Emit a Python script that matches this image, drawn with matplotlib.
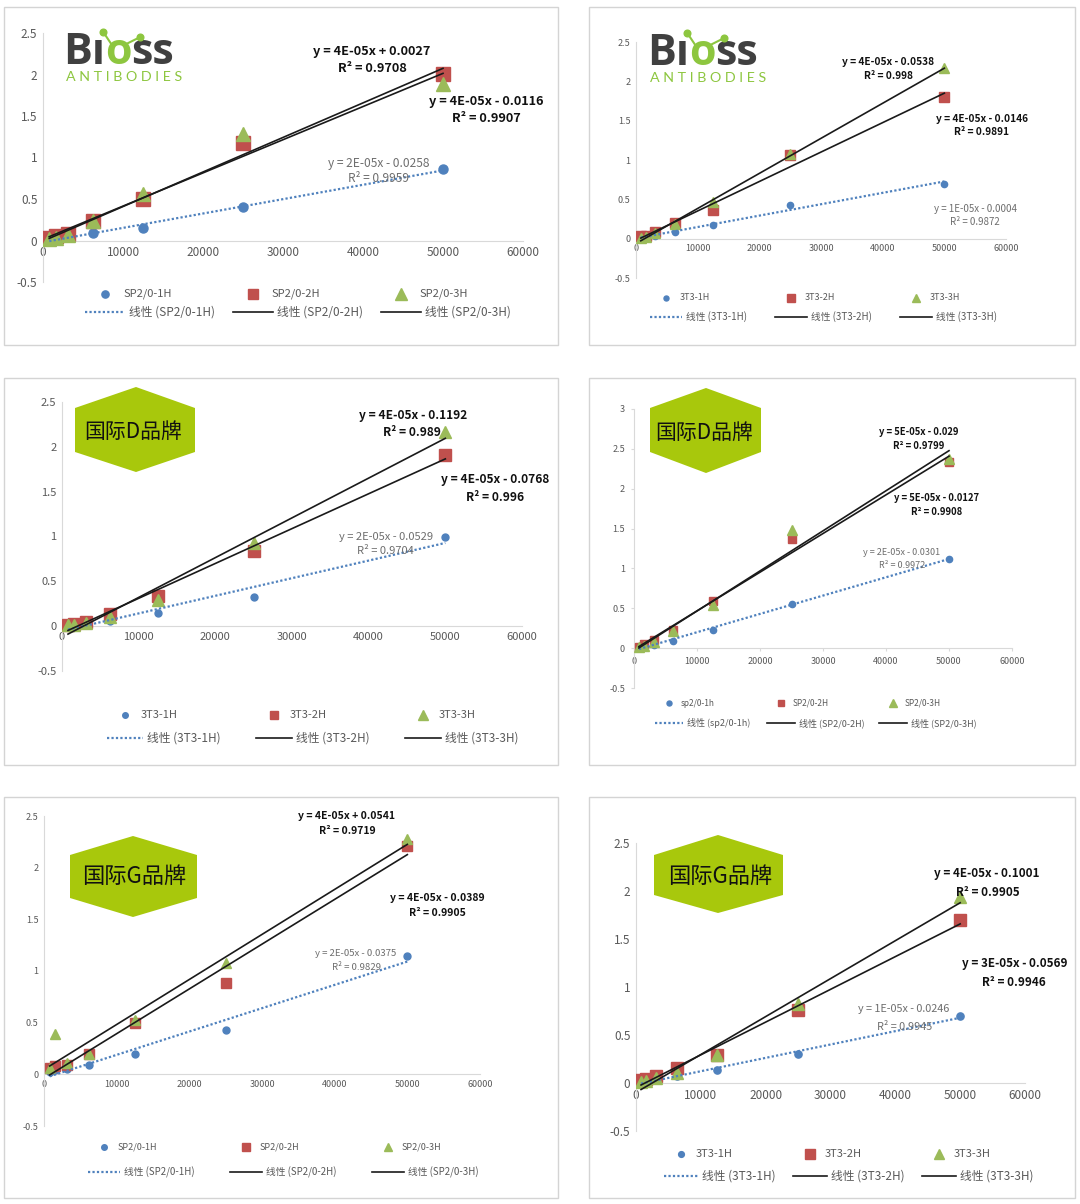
import numpy as np
import matplotlib
matplotlib.use("Agg")
import matplotlib.pyplot as plt
from matplotlib.patches import Polygon, Rectangle
from matplotlib.lines import Line2D

plt.rcParams['font.family'] = ['Noto Sans CJK SC', 'DejaVu Sans']

W, H = 1080, 1204

# dilution series (x) shared by every panel
conc = [781.25, 1562.5, 3125, 6250, 12500, 25000, 50000]

# panel 1 - Bioss, SP2/0
p1_names = ["SP2/0-1H", "SP2/0-2H", "SP2/0-3H"]
p1_1h = [0.01, 0.02, 0.04, 0.09, 0.15, 0.40, 0.86]
p1_2h = [0.03, 0.05, 0.08, 0.23, 0.50, 1.18, 2.01]
p1_3h = [0.02, 0.03, 0.07, 0.23, 0.56, 1.28, 1.88]
p1_eqs = ["y = 4E-05x + 0.0027", "R² = 0.9708", "y = 4E-05x - 0.0116", "R² = 0.9907",
          "y = 2E-05x - 0.0258", "R² = 0.9959"]

# panel 2 - Bioss, 3T3
p2_names = ["3T3-1H", "3T3-2H", "3T3-3H"]
p2_1h = [0.01, 0.02, 0.04, 0.09, 0.17, 0.43, 0.70]
p2_2h = [0.03, 0.03, 0.08, 0.20, 0.36, 1.06, 1.80]
p2_3h = [0.01, 0.02, 0.07, 0.19, 0.46, 1.07, 2.17]
p2_eqs = ["y = 4E-05x - 0.0538", "R² = 0.998", "y = 4E-05x - 0.0146", "R² = 0.9891",
          "y = 1E-05x - 0.0004", "R² = 0.9872"]

# panel 3 - 国际D品牌, 3T3
p3_names = ["3T3-1H", "3T3-2H", "3T3-3H"]
p3_1h = [0.00, 0.01, 0.03, 0.06, 0.15, 0.33, 0.99]
p3_2h = [0.01, 0.02, 0.05, 0.14, 0.34, 0.84, 1.91]
p3_3h = [0.01, 0.01, 0.04, 0.10, 0.29, 0.93, 2.16]
p3_eqs = ["y = 4E-05x - 0.1192", "R² = 0.989", "y = 4E-05x - 0.0768", "R² = 0.996",
          "y = 2E-05x - 0.0529", "R² = 0.9704"]

# panel 4 - 国际D品牌, SP2/0
p4_names = ["sp2/0-1h", "SP2/0-2H", "SP2/0-3H"]
p4_1h = [0.01, 0.02, 0.04, 0.09, 0.23, 0.56, 1.12]
p4_2h = [0.02, 0.05, 0.10, 0.23, 0.59, 1.37, 2.33]
p4_3h = [0.01, 0.03, 0.08, 0.22, 0.54, 1.48, 2.37]
p4_eqs = ["y = 5E-05x - 0.029", "R² = 0.9799", "y = 5E-05x - 0.0127", "R² = 0.9908",
          "y = 2E-05x - 0.0301", "R² = 0.9972"]

# panel 5 - 国际G品牌, SP2/0
p5_names = ["SP2/0-1H", "SP2/0-2H", "SP2/0-3H"]
p5_1h = [0.02, 0.04, 0.05, 0.09, 0.20, 0.43, 1.15]
p5_2h = [0.06, 0.08, 0.09, 0.20, 0.50, 0.88, 2.21]
p5_3h = [0.06, 0.39, 0.11, 0.20, 0.53, 1.08, 2.28]
p5_eqs = ["y = 4E-05x + 0.0541", "R² = 0.9719", "y = 4E-05x - 0.0389", "R² = 0.9905",
          "y = 2E-05x - 0.0375", "R² = 0.9829"]

# panel 6 - 国际G品牌, 3T3
p6_names = ["3T3-1H", "3T3-2H", "3T3-3H"]
p6_1h = [0.01, 0.02, 0.03, 0.07, 0.135, 0.30, 0.70]
p6_2h = [0.03, 0.04, 0.07, 0.16, 0.29, 0.76, 1.70]
p6_3h = [0.01, 0.02, 0.05, 0.10, 0.29, 0.82, 1.94]
p6_eqs = ["y = 4E-05x - 0.1001", "R² = 0.9905", "y = 3E-05x - 0.0569", "R² = 0.9946",
          "y = 1E-05x - 0.0246", "R² = 0.9945"]

BLUE, RED, GREEN = "#4f81bd", "#c0504d", "#9bbb59"
GRID, TXT = "#d9d9d9", "#595959"
HEX = "#a8c80c"
LOGO_GREEN, LOGO_GREY = "#8dc63f", "#404040"
LOGO_FONT = ["Open Sans", "DejaVu Sans"]

fig = plt.figure(figsize=(W / 100, H / 100), dpi=100)


def fx(x):
    return x / W


def fy(y):
    return 1 - y / H


# layout in pixels: box, plot area (x0, y_top, x60000, y_bottom), y max, font sizes, legend
panels = [
    dict(data=(p1_1h, p1_2h, p1_3h), names=p1_names, eqs=p1_eqs,
         box=(4, 7, 558, 345), area=(43, 33, 523, 282), ymax=2.5, tfs=8.5, efs=(9.2, 8.6),
         eqpos=[(372, 52), (372, 69), (486, 101), (486, 118), (379, 163), (379, 179)],
         leg=dict(x=85, y1=294, y2=312, pitch=148, hl=40, fs=8), ms=(6.5, 9.5, 10),
         logo="bioss", logo_at=(63, 64), ticks=False),
    dict(data=(p2_1h, p2_2h, p2_3h), names=p2_names, eqs=p2_eqs,
         box=(589, 7, 1075, 345), area=(636, 42, 1006, 278), ymax=2.5, tfs=6.5, efs=(7.3, 7),
         eqpos=[(888, 62), (888, 76), (982, 119), (982, 132), (975, 209), (975, 222)],
         leg=dict(x=650, y1=298, y2=317, pitch=125, hl=32, fs=6.5), ms=(4.5, 6.5, 7),
         logo="bioss", logo_at=(647, 65), ticks=False),
    dict(data=(p3_1h, p3_2h, p3_3h), names=p3_names, eqs=p3_eqs,
         box=(4, 378, 558, 765), area=(62, 402, 522, 671), ymax=2.5, tfs=8, efs=(8.6, 8),
         eqpos=[(413, 415), (412, 433), (495, 480), (495, 497), (386, 537), (385, 551)],
         leg=dict(x=107, y1=715, y2=738, pitch=149, hl=36, fs=8), ms=(5, 8, 8.5),
         logo="国际D品牌", hexpts=[(75, 408), (136, 387), (195, 408), (195, 452), (136, 472), (75, 452)],
         hexfs=15, hextxt=(133, 432), ticks=False),
    dict(data=(p4_1h, p4_2h, p4_3h), names=p4_names, eqs=p4_eqs,
         box=(589, 378, 1075, 765), area=(634, 409, 1012, 688), ymax=3.0, tfs=6.5, efs=(6.8, 6.5),
         eqpos=[(919, 432), (919, 446), (937, 498), (937, 512), (902, 553), (902, 566)],
         leg=dict(x=655, y1=703, y2=723, pitch=112, hl=28, fs=6), ms=(4.5, 6.2, 6.8),
         logo="国际D品牌", hexpts=[(650, 408), (706, 388), (761, 408), (761, 452), (706, 473), (650, 452)],
         hexfs=15, hextxt=(704, 433), ticks=True),
    dict(data=(p5_1h, p5_2h, p5_3h), names=p5_names, eqs=p5_eqs,
         box=(4, 797, 558, 1198), area=(44, 816, 480, 1126), ymax=2.5, tfs=6.5, efs=(7.5, 6.9),
         eqpos=[(347, 816), (347, 831), (437, 898), (437, 913), (356, 954), (357, 967)],
         leg=dict(x=88, y1=1147, y2=1172, pitch=142, hl=32, fs=6.5), ms=(5, 6.8, 7.5),
         logo="国际G品牌", hexpts=[(70, 855), (133, 836), (197, 855), (197, 898), (133, 917), (70, 898)],
         hexfs=16, hextxt=(134, 876), ticks=False),
    dict(data=(p6_1h, p6_2h, p6_3h), names=p6_names, eqs=p6_eqs,
         box=(589, 797, 1075, 1198), area=(636, 843, 1025, 1131), ymax=2.5, tfs=8.5, efs=(8.4, 7.8),
         eqpos=[(987, 874), (988, 893), (1015, 963), (1014, 982), (904, 1009), (905, 1027)],
         leg=dict(x=664, y1=1154, y2=1176, pitch=129, hl=34, fs=8), ms=(5.2, 8.5, 8.8),
         logo="国际G品牌", hexpts=[(654, 855), (718, 835), (783, 855), (783, 895), (718, 913), (654, 895)],
         hexfs=16, hextxt=(720, 876), ticks=False),
]

markers = ["o", "s", "^"]
colors = [BLUE, RED, GREEN]
logo_parts = []

for p in panels:
    bl, bt, br, bb = p["box"]
    fig.add_artist(Rectangle((fx(bl), fy(bb)), (br - bl) / W, (bb - bt) / H,
                             transform=fig.transFigure, fill=False, ec="#d4d4d4", lw=1.0))

    l, t, r, b = p["area"]
    ax = fig.add_axes([fx(l), fy(b), (r - l) / W, (b - t) / H])
    ax.set_xlim(0, 60000)
    ax.set_ylim(-0.5, p["ymax"])
    ax.patch.set_alpha(0)
    for s in ("top", "right"):
        ax.spines[s].set_visible(False)
    ax.spines["left"].set_color(GRID)
    ax.spines["bottom"].set_color(GRID)
    ax.spines["bottom"].set_position(("data", 0))
    ax.set_xticks(np.arange(0, 60001, 10000))
    ax.set_xticklabels([f"{v}" for v in range(0, 60001, 10000)])
    yt = np.arange(-0.5, p["ymax"] + 0.01, 0.5)
    ax.set_yticks(yt)
    ax.set_yticklabels([f"{v:g}" for v in yt])
    tl = 2.5 if p["ticks"] else 0
    ax.tick_params(axis="both", labelsize=p["tfs"], labelcolor=TXT, color=GRID, length=tl, pad=4)

    ys = p["data"]
    for y, m, c, ms in zip(ys, markers, colors, p["ms"]):
        ax.plot(conc, y, ls="none", marker=m, color=c, ms=ms, mec=c, zorder=3)
    xs = np.array([min(conc), max(conc)])
    for i, y in enumerate(ys):
        k, c0 = np.polyfit(conc, y, 1)
        if i == 0:
            ax.plot(xs, k * xs + c0, color=BLUE, ls=(0, (1, 1)), lw=1.6, zorder=4)
        else:
            ax.plot(xs, k * xs + c0, color="#1a1a1a", lw=1.2, zorder=4)

    # equation labels: two black (series 2/3), one grey (series 1)
    for j, (txt, (ex, ey)) in enumerate(zip(p["eqs"], p["eqpos"])):
        if j >= 4:
            fig.text(fx(ex), fy(ey), txt, ha="center", va="center", fontsize=p["efs"][1],
                     color="#6e6e6e")
        else:
            fig.text(fx(ex), fy(ey), txt, ha="center", va="center", fontsize=p["efs"][0],
                     color="#111111", fontweight="bold")

    # legend built by hand: row 1 markers, row 2 trend lines
    lg = p["leg"]
    for j in range(3):
        x0 = lg["x"] + j * lg["pitch"]
        hl = lg["hl"]
        fig.add_artist(Line2D([fx(x0 + hl / 2)], [fy(lg["y1"])], marker=markers[j], color=colors[j],
                              ms=p["ms"][j] * 0.8, ls="none", transform=fig.transFigure))
        fig.text(fx(x0 + hl - 2), fy(lg["y1"]), p["names"][j], fontsize=lg["fs"], color=TXT,
                 va="center", ha="left")
        if j == 0:
            fig.add_artist(Line2D([fx(x0), fx(x0 + hl)], [fy(lg["y2"])] * 2, color=BLUE,
                                  ls=(0, (1, 1)), lw=1.6, transform=fig.transFigure))
        else:
            fig.add_artist(Line2D([fx(x0), fx(x0 + hl)], [fy(lg["y2"])] * 2, color="#1a1a1a",
                                  lw=1.2, transform=fig.transFigure))
        fig.text(fx(x0 + hl + 4), fy(lg["y2"]), f"线性 ({p['names'][j]})", fontsize=lg["fs"] + 0.5,
                 color=TXT, va="center", ha="left")

    # logos
    if p["logo"] == "bioss":
        lx, ly = p["logo_at"]
        # dotless i: the logo replaces the i-dot with a green "molecule" dot
        t1 = fig.text(fx(lx), fy(ly), "Bı", fontsize=31, fontweight="bold", family=LOGO_FONT,
                      color=LOGO_GREY, va="baseline", ha="left")
        t2 = ax.annotate("o", xy=(1, 0), xycoords=t1, va="bottom", ha="left", fontsize=31,
                         fontweight="bold", family=LOGO_FONT, color=LOGO_GREEN, annotation_clip=False)
        ax.annotate("ss", xy=(1, 0), xycoords=t2, va="bottom", ha="left", fontsize=31,
                    fontweight="bold", family=LOGO_FONT, color=LOGO_GREY, annotation_clip=False)
        fig.text(fx(lx + 3), fy(ly + 17), "A N T I B O D I E S", fontsize=10.3, family="Lato",
                 color=LOGO_GREEN, va="baseline", ha="left")
        logo_parts.append((t2, ly))
    else:
        fig.add_artist(Polygon([(fx(a), fy(c)) for a, c in p["hexpts"]], closed=True,
                               transform=fig.transFigure, fc=HEX, ec="none"))
        hx, hy = p["hextxt"]
        fig.text(fx(hx), fy(hy), p["logo"], fontsize=p["hexfs"], color="#111111",
                 ha="center", va="center")

# the two little "molecule" arms above the green o of the logo
fig.canvas.draw()
for t2, ly in logo_parts:
    bb = t2.get_window_extent()
    cx = (bb.x0 + bb.x1) / 2  # window pixels == image pixels at dpi 100
    arms = [((cx - 15, ly - 32), (cx - 7, ly - 20)), ((cx + 22, ly - 27), (cx + 8, ly - 20))]
    for (dx, dy), (ex, ey) in arms:
        fig.add_artist(Line2D([fx(dx), fx(ex)], [fy(dy), fy(ey)], color=LOGO_GREEN, lw=1.5,
                              transform=fig.transFigure))
        fig.add_artist(Line2D([fx(dx)], [fy(dy)], marker="o", ms=4.8, color=LOGO_GREEN, ls="none",
                              transform=fig.transFigure))

fig.savefig("out.png", dpi=100, facecolor="white")
